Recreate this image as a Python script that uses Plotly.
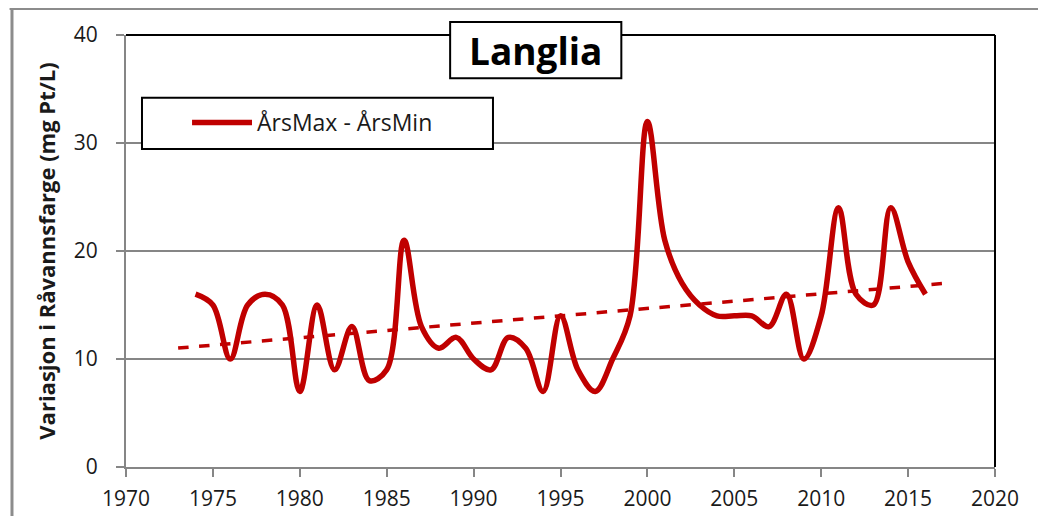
import numpy as np
import plotly.graph_objects as go

# Annual variation (max - min) of raw water colour, mg Pt/L
years = list(range(1974, 2017))
variation = [16, 15, 10, 15, 16, 15, 7, 15, 9, 13,
             8, 9, 21, 13, 11, 12, 10, 9, 12, 11,
             7, 14, 9, 7, 10, 14, 32, 21, 17, 15,
             14, 14, 14, 13, 16, 10, 14, 24, 16, 15,
             24, 19, 16]

x_ticks = list(range(1970, 2021, 5))
y_ticks = [0, 10, 20, 30, 40]

# linear trend, extended one year backwards and forwards (like the Excel trendline)
slope, intercept = np.polyfit(years, variation, 1)
trend_x = [years[0] - 1, years[-1] + 1]
trend_y = [slope * x + intercept for x in trend_x]

RED = "#C00000"
GRID = "#868686"
FONT = "Open Sans, Liberation Sans, sans-serif"

fig = go.Figure()
fig.add_trace(go.Scatter(
    x=trend_x, y=trend_y, mode="lines",
    line=dict(color=RED, width=3.5, dash="dash"),
    showlegend=False, hoverinfo="skip",
))
fig.add_trace(go.Scatter(
    x=years, y=variation, mode="lines",
    line=dict(color=RED, width=5.5, shape="spline", smoothing=1.0),
    name="ÅrsMax - ÅrsMin", showlegend=False,
))

# plot-area border (top/right black), title box, legend box, outer frame
shapes = [
    dict(type="line", xref="paper", yref="paper", x0=0, x1=1, y0=1, y1=1,
         line=dict(color="black", width=2), layer="above"),
    dict(type="line", xref="paper", yref="paper", x0=1, x1=1, y0=0, y1=1,
         line=dict(color="black", width=2), layer="above"),
    dict(type="rect", xref="paper", yref="paper", x0=0.373, x1=0.570, y0=0.900, y1=1.030,
         line=dict(color="black", width=2), fillcolor="white", layer="above"),
    dict(type="rect", xref="paper", yref="paper", x0=0.0184, x1=0.4223, y0=0.7364, y1=0.8545,
         line=dict(color="black", width=2), fillcolor="white", layer="above"),
    dict(type="line", xref="paper", yref="paper", x0=0.076, x1=0.145, y0=0.7977, y1=0.7977,
         line=dict(color=RED, width=5.5), layer="above"),
    dict(type="line", xref="paper", yref="paper", x0=-0.134, x1=1.06, y0=1.0614, y1=1.0614,
         line=dict(color="#8c8c8c", width=3), layer="above"),
    dict(type="line", xref="paper", yref="paper", x0=-0.1312, x1=-0.1312, y0=-0.12, y1=1.0614,
         line=dict(color="#8c8c8c", width=3), layer="above"),
]

annotations = [
    dict(text="<b>Langlia</b>", xref="paper", yref="paper", x=0.4715, y=0.965,
         xanchor="center", yanchor="middle", showarrow=False,
         font=dict(family=FONT, size=37, color="black")),
    dict(text="ÅrsMax - ÅrsMin", xref="paper", yref="paper", x=0.1484, y=0.7977,
         xanchor="left", yanchor="middle", showarrow=False,
         font=dict(family=FONT, size=23, color="#1a1a1a")),
]

# page body adds an 8px offset, margins compensate for it
fig.update_layout(
    width=1046, height=516,
    margin=dict(l=118, r=59, t=21, b=55),
    paper_bgcolor="white", plot_bgcolor="white",
    font=dict(family=FONT, color="#1a1a1a"),
    shapes=shapes, annotations=annotations,
    xaxis=dict(
        range=[1970, 2020], tickvals=x_ticks, showgrid=False, zeroline=False,
        showline=True, linecolor=GRID, linewidth=2,
        ticks="outside", ticklen=8, tickcolor=GRID, tickwidth=2,
        ticklabelstandoff=4,
        tickfont=dict(size=21, color="#1a1a1a"),
    ),
    yaxis=dict(
        range=[0, 40], tickvals=y_ticks, showgrid=True, gridcolor=GRID, gridwidth=2,
        zeroline=False, showline=True, linecolor=GRID, linewidth=2,
        ticks="outside", ticklen=8, tickcolor=GRID, tickwidth=2,
        ticklabelstandoff=14,
        tickfont=dict(size=21, color="#1a1a1a"),
        title=dict(text="<b>Variasjon i Råvannsfarge (mg Pt/L)</b>", standoff=12,
                   font=dict(family=FONT, size=22, color="#1a1a1a")),
    ),
)

fig.write_html("out.html")
